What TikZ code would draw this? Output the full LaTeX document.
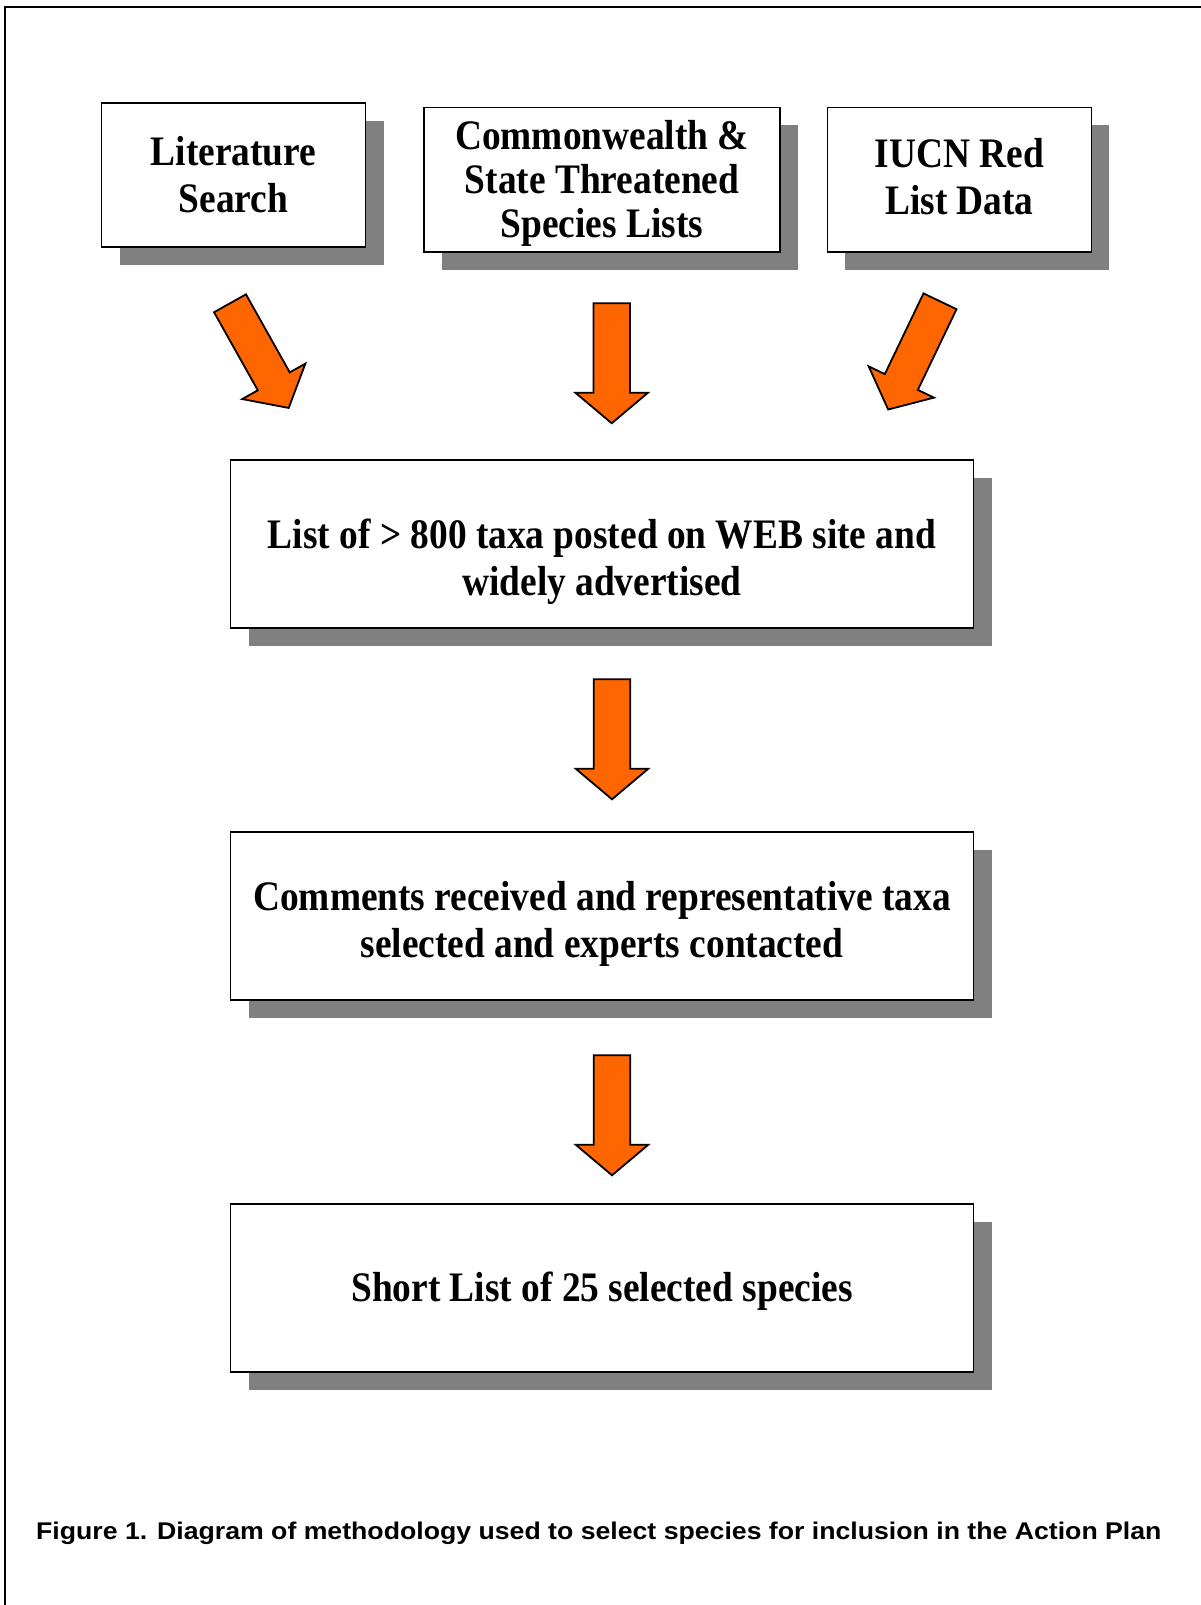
\documentclass[tikz,border=0pt]{standalone}
\usepackage{fontspec}
\usepackage{graphicx}
\usetikzlibrary{shadows}
\newfontfamily\cajafont{Liberation Serif}[FakeStretch=0.89]
\setsansfont{Liberation Sans}
\definecolor{naranja}{HTML}{FF6600}
\definecolor{sombra}{HTML}{808080}
\tikzset{
  caja/.style={draw, line width=1.8pt, fill=white, align=center, inner sep=2pt,
    font={\cajafont\bfseries\fontsize{42pt}{47pt}\selectfont},
    drop shadow={shadow xshift=18pt, shadow yshift=-18pt, fill=sombra, opacity=1}},
  flecha/.style={draw, line width=1.8pt, fill=naranja, line join=miter}
}
\begin{document}
\begin{tikzpicture}[x=1pt,y=-1pt] %Seleccion de especies
            \useasboundingbox (0,0) rectangle (1201,1605);
            \draw[line width=2pt] (5,1620) -- (5,7) -- (1220,7);

            \node[caja, minimum width=264pt, minimum height=143.5pt] (L) at (233.5,175) {Literature\\Search};
            \node[caja, minimum width=356pt, minimum height=144.4pt, inner sep=0pt,
                  font={\cajafont\bfseries\fontsize{42pt}{44pt}\selectfont}] (C) at (602,179.7) {\rule{0pt}{37pt}Commonwealth \&\\State Threatened\\Species Lists};
            \node[caja, minimum width=264pt, minimum height=144.4pt] (I) at (959.4,179.7) {IUCN Red\\List Data\rule[-6pt]{0pt}{6pt}};

            \node[caja, minimum width=743pt, minimum height=168pt] (W) at (602,543.7) {\rule{0pt}{65pt}List of > 800 taxa posted on WEB site and\\widely advertised};
            \node[caja, minimum width=743pt, minimum height=168pt] (M) at (602,916) {\rule{0pt}{45pt}Comments received and representative taxa\\selected and experts contacted};
            \node[caja, minimum width=743pt, minimum height=168pt] (S) at (602,1288) {\rule{0pt}{36pt}Short List of 25 selected species};

            \foreach \x/\y/\g in {230/303.3/29.3, 611.7/303.3/0, 940/301.3/-25.6, 612/679.3/0, 612/1055.3/0}
              \filldraw[flecha, shift={(\x,\y)}, rotate=\g] (-18.3,0) -- (18.3,0) -- (18.3,89.5) -- (36.2,89.5)
                -- (0,120) -- (-36.2,89.5) -- (-18.3,89.5) -- cycle;

            \node[anchor=base west, inner sep=0pt] (F) at (36,1539)
              {\resizebox{1125pt}{17.5pt}{\sffamily\bfseries Figure 1. Diagram of methodology used to select species for inclusion in the Action Plan}};
        \end{tikzpicture}
\end{document}
